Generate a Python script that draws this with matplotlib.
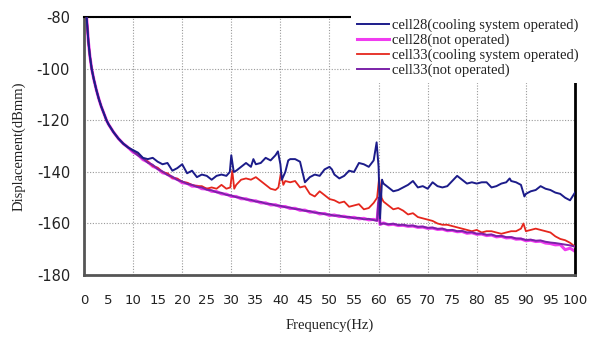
import matplotlib
matplotlib.use("Agg")
import matplotlib.pyplot as plt

plt.rcParams["axes.unicode_minus"] = False

# low-frequency part, identical for all four measurements
head_f = [0.5, 0.9, 1.2, 1.57, 2.0, 2.5, 3.0, 3.5, 4.0, 4.6, 5.0, 6.0, 7.0, 8.0, 9.0]
head_v = [-79, -89.5, -95, -100, -104, -108, -111.5, -114.5, -117, -120, -121.5,
          -124.5, -127, -129, -130.5]

# cell28, cooling system operated
c28_op_f = [10, 11, 12, 13, 14, 15, 16, 17, 18, 19, 20, 21, 22, 23, 24, 25, 26, 27, 28,
            29, 29.7, 30, 30.5, 31, 32, 33, 34, 34.5, 35, 36, 37, 38, 39, 39.5, 40, 40.3,
            41, 41.6, 42, 43, 44, 45, 46, 47, 48, 49, 50, 50.5, 51, 52, 53, 54, 55, 56,
            57, 58, 59, 59.6, 60, 60.3, 60.7, 61, 62, 63, 64, 65, 66, 67, 68, 69, 70,
            71, 72, 73, 74, 75, 76, 77, 78, 79, 80, 81, 82, 83, 84, 85, 86, 86.7, 87,
            88, 89, 89.7, 90, 91, 92, 93, 94, 95, 96, 97, 98, 99, 100]
c28_op_v = [-131.5, -132.5, -134.5, -135, -134.5, -136, -137, -136.5, -139.5, -138.5,
            -137, -140.5, -139.5, -142, -141, -141.5, -143, -141.5, -141, -141.5, -140,
            -133.5, -140, -139.5, -138, -136.5, -138, -135, -137, -136.5, -134.5, -135.5,
            -133.5, -132, -137, -143, -140, -135.5, -135, -135, -136, -144, -142, -141,
            -141.5, -139, -138, -139, -141, -142.5, -141.5, -139.5, -140, -136.5, -137,
            -138, -135.5, -128.5, -138, -158, -143, -144.5, -146, -147.5, -147, -146,
            -145, -143.5, -146, -145.5, -146.5, -144, -145.5, -146, -145.5, -143.5,
            -141.5, -143, -144.5, -144, -144.5, -144, -144, -146, -145.5, -144.5, -144,
            -142.5, -143.5, -144, -145, -149.5, -148.5, -147.5, -147, -145.5, -146.5,
            -147, -148, -148.5, -150, -151, -148]

# cell33, cooling system operated
c33_op_f = [10, 11, 12, 13, 14, 15, 16, 17, 18, 19, 20, 21, 22, 23, 24, 25, 26, 27, 28,
            29, 29.8, 30.2, 30.6, 31, 32, 33, 34, 35, 36, 37, 38, 39, 39.6, 40.1, 40.6,
            41, 42, 43, 44, 45, 46, 47, 48, 49, 50, 51, 52, 53, 54, 55, 56, 57, 58, 59,
            59.7, 60.1, 60.6, 61, 62, 63, 64, 65, 66, 67, 68, 69, 70, 71, 72, 73, 74, 75,
            76, 77, 78, 79, 80, 81, 82, 83, 84, 85, 86, 87, 88, 89, 89.5, 90, 91, 92,
            93, 94, 95, 96, 97, 98, 99, 100]
c33_op_v = [-131.8, -133.2, -134.6, -136, -137.6, -138.4, -140, -140.6, -142.2, -142.6,
            -143.8, -144.2, -145, -145.5, -145.5, -146.5, -146, -146.5, -145, -146.5,
            -146, -139.5, -146.5, -145, -143, -142.5, -143, -142, -143.5, -145, -146.5,
            -147, -146, -140.5, -145, -143.5, -144, -143.5, -146, -145.5, -148.5, -149.5,
            -147.5, -149, -150.5, -151, -152, -151.5, -153.5, -153, -152.5, -154.5, -154,
            -152, -150, -142.5, -150, -151.5, -153, -154.5, -154, -155, -156.5, -156,
            -157.5, -158, -158.5, -159, -160, -160.5, -160.5, -161, -161.5, -162, -162.5,
            -163, -162.5, -163.5, -163, -163, -163.5, -164, -163.5, -163, -163, -162,
            -160, -163, -162.5, -162, -162.5, -163, -163.5, -165, -166, -166.5, -167.5,
            -169]

# not operated: same frequency grid for both cells
off_f = list(range(10, 60)) + [59.7, 60, 60.3] + list(range(61, 101))
c28_off_v = [-132.3, -133.3, -135.2, -136.1, -137.8, -138.6, -140.3, -140.8, -142.3,
             -142.8, -144.2, -144.4, -145.5, -145.5, -146.5, -146.6, -147.5, -147.6,
             -148.5, -148.6, -149.5, -149.5, -150.4, -150.4, -151.2, -151.2, -152,
             -152, -152.8, -152.7, -153.5, -153.4, -154.2, -154.1, -154.9, -154.8,
             -155.6, -155.5, -156.3, -156.1, -156.9, -156.7, -157.3, -157.2, -157.8,
             -157.6, -158.2, -158, -158.6, -158.4, -158.8, -152, -160.4, -159.8, -160.5,
             -160.3, -160.8, -160.7, -161.1, -161, -161.5, -161.4, -161.9, -161.8,
             -162.3, -162.2, -162.8, -162.7, -163.2, -163.1, -163.8, -163.6, -164.2,
             -164.1, -164.7, -164.5, -165.2, -165, -165.6, -165.5, -166.1, -166,
             -166.7, -166.5, -167, -166.9, -167.6, -167.8, -168.3, -168.2, -170.2,
             -169.6, -170.8]
c33_off_v = [-132, -133.6, -134.8, -136.4, -137.2, -138.9, -139.8, -141.2, -141.8,
             -143.1, -143.7, -144.6, -145, -145.8, -146, -146.9, -147.1, -147.9, -148.1,
             -148.9, -149.1, -149.8, -150, -150.7, -150.8, -151.5, -151.6, -152.3,
             -152.4, -153, -153.1, -153.7, -153.8, -154.4, -154.5, -155.1, -155.2,
             -155.8, -155.9, -156.4, -156.5, -157, -156.9, -157.5, -157.4, -158, -157.8,
             -158.4, -158.2, -158.7, -158.9, -150, -160.2, -160, -160.3, -160.1, -160.6,
             -160.5, -160.9, -160.8, -161.3, -161.2, -161.7, -161.6, -162.1, -162,
             -162.6, -162.5, -163, -162.9, -163.5, -163.4, -164, -163.9, -164.4, -164.3,
             -164.9, -164.8, -165.3, -165.3, -165.8, -165.9, -166.4, -166.3, -166.7,
             -166.6, -167.1, -167.4, -167.6, -167.9, -168.2, -168.5, -169]

x_ticks = list(range(0, 101, 5))
y_ticks = [-80, -100, -120, -140, -160, -180]

fig = plt.figure(figsize=(5.97, 3.43), dpi=100)
ax = fig.add_axes([0.1407, 0.1983, 0.8224, 0.7507])

ax.plot(head_f + c28_op_f, head_v + c28_op_v, color="#1c1c8a", lw=1.4,
        label="cell28(cooling system operated)", zorder=4)
ax.plot(head_f + off_f, head_v + c28_off_v, color="#f03cf0", lw=2.2,
        label="cell28(not operated)", zorder=2)
ax.plot(head_f + c33_op_f, head_v + c33_op_v, color="#e5261d", lw=1.3,
        label="cell33(cooling system operated)", zorder=3)
ax.plot(head_f + off_f, head_v + c33_off_v, color="#7b22a8", lw=1.4,
        label="cell33(not operated)", zorder=3)

ax.set_xlim(0, 100)
ax.set_ylim(-180, -80)
ax.set_xticks(x_ticks)
ax.set_yticks(y_ticks)
ax.tick_params(axis="both", length=0, colors="#222222")
ax.tick_params(axis="x", pad=14, labelsize=9.5)
ax.tick_params(axis="y", pad=10, labelsize=10.5)

ax.grid(True, color="#999999", ls=(0, (1, 1.5)), lw=0.8)
# vertical grid only every 10 Hz
for i, gl in enumerate(ax.xaxis.get_gridlines()):
    if i % 2 == 1:
        gl.set_visible(False)

ax.spines["left"].set_color("#555555")
ax.spines["left"].set_linewidth(2)
ax.spines["bottom"].set_color("#555555")
ax.spines["bottom"].set_linewidth(2)
ax.spines["top"].set_color("black")
ax.spines["top"].set_linewidth(1.5)
ax.spines["right"].set_color("black")
ax.spines["right"].set_linewidth(2)

serif = ["Liberation Serif", "DejaVu Serif"]
ax.set_xlabel("Frequency(Hz)", family=serif, fontsize=10.5, color="#222222", labelpad=8)
ax.set_ylabel("Displacement(dBmm)", family=serif, fontsize=10.5, color="#222222", labelpad=8)

leg = fig.legend(loc="upper left", bbox_to_anchor=(0.588, 0.962), frameon=True,
                 prop={"family": serif, "size": 10.5}, handlelength=2.2,
                 handletextpad=0.2, labelspacing=0.1, borderpad=0.4,
                 borderaxespad=0.0, fancybox=False)
leg.get_frame().set_facecolor("white")
leg.get_frame().set_edgecolor("none")
leg.get_frame().set_alpha(1)
for t in leg.get_texts():
    t.set_color("#222222")

fig.savefig("out.png", dpi=100)
